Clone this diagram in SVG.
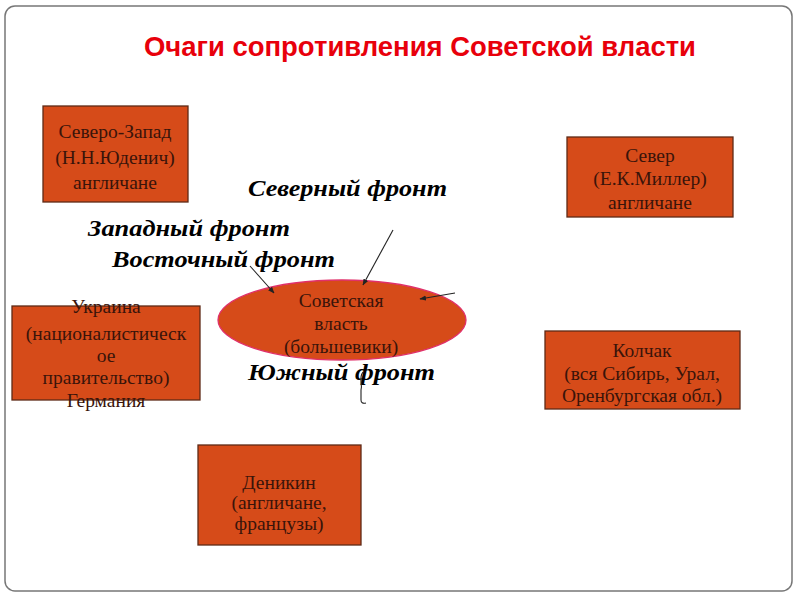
<svg xmlns="http://www.w3.org/2000/svg" width="800" height="600" viewBox="0 0 800 600">
<defs>
<style>
.box{fill:#D64B19;stroke:#5E2A16;stroke-width:1.3}
.bt{font-family:"Liberation Serif","Times New Roman",serif;font-size:19.5px;fill:#3A140A;text-anchor:middle}
.fr{font-family:"Liberation Serif","Times New Roman",serif;font-size:24px;font-weight:bold;font-style:italic;fill:#000}
.cn{fill:none;stroke:#222;stroke-width:1.1}
</style>
<marker id="ah" viewBox="0 0 10 10" refX="9" refY="5" markerWidth="6" markerHeight="6" orient="auto">
<path d="M0,1 L10,5 L0,9 Z" fill="#222"/>
</marker>
</defs>
<rect x="0" y="0" width="800" height="600" fill="#fff"/>
<rect x="5" y="6" width="787" height="585" rx="10" fill="#fff" stroke="#777" stroke-width="1.5"/>
<text x="420" y="56" font-family="Liberation Sans, Arial, sans-serif" font-size="27" font-weight="bold" fill="#E8000B" text-anchor="middle" textLength="552" lengthAdjust="spacingAndGlyphs">Очаги сопротивления Советской власти</text>

<g id="nw">
<rect class="box" x="43" y="106" width="145" height="96"/>
<text class="bt" x="115" y="138">Северо-Запад</text>
<text class="bt" x="115" y="164">(Н.Н.Юденич)</text>
<text class="bt" x="115" y="189">англичане</text>
</g>
<g id="north">
<rect class="box" x="567" y="137" width="166" height="80"/>
<text class="bt" x="650" y="162">Север</text>
<text class="bt" x="650" y="185">(Е.К.Миллер)</text>
<text class="bt" x="650" y="209">англичане</text>
</g>
<g id="ukraine">
<rect class="box" x="12" y="306" width="188" height="94"/>
<text class="bt" x="106" y="313">Украина</text>
<text class="bt" x="106" y="340">(националистическ</text>
<text class="bt" x="106" y="362">ое</text>
<text class="bt" x="106" y="384">правительство)</text>
<text class="bt" x="106" y="407">Германия</text>
</g>
<g id="kolchak">
<rect class="box" x="545" y="331" width="195" height="78"/>
<text class="bt" x="642" y="357">Колчак</text>
<text class="bt" x="642" y="380">(вся Сибирь, Урал,</text>
<text class="bt" x="642" y="402">Оренбургская обл.)</text>
</g>
<g id="denikin">
<rect class="box" x="198" y="445" width="163" height="100"/>
<text class="bt" x="279" y="489">Деникин</text>
<text class="bt" x="279" y="509">(англичане,</text>
<text class="bt" x="279" y="530">французы)</text>
</g>
<g id="soviet">
<ellipse cx="342" cy="320" rx="124" ry="40" fill="#D64B19" stroke="#E0306A" stroke-width="1.3"/>
<text class="bt" x="341" y="307">Советская</text>
<text class="bt" x="341" y="330">власть</text>
<text class="bt" x="341" y="353">(большевики)</text>
</g>

<g id="labels">
<text class="fr" x="248" y="196" textLength="199" lengthAdjust="spacingAndGlyphs">Северный фронт</text>
<text class="fr" x="88" y="236" textLength="202" lengthAdjust="spacingAndGlyphs">Западный фронт</text>
<text class="fr" x="112" y="267" textLength="223" lengthAdjust="spacingAndGlyphs">Восточный фронт</text>
<text class="fr" x="248" y="380" textLength="187" lengthAdjust="spacingAndGlyphs">Южный фронт</text>
</g>

<g id="connectors">
<line class="cn" x1="393" y1="230" x2="363" y2="285" marker-end="url(#ah)"/>
<line class="cn" x1="250" y1="266" x2="274" y2="293" marker-end="url(#ah)"/>
<line class="cn" x1="455" y1="293" x2="420" y2="299" marker-end="url(#ah)"/>
<path class="cn" d="M363,372 C358,378 363,384 361,390 L361,400 Q361,404 366,403"/>
</g>
</svg>
